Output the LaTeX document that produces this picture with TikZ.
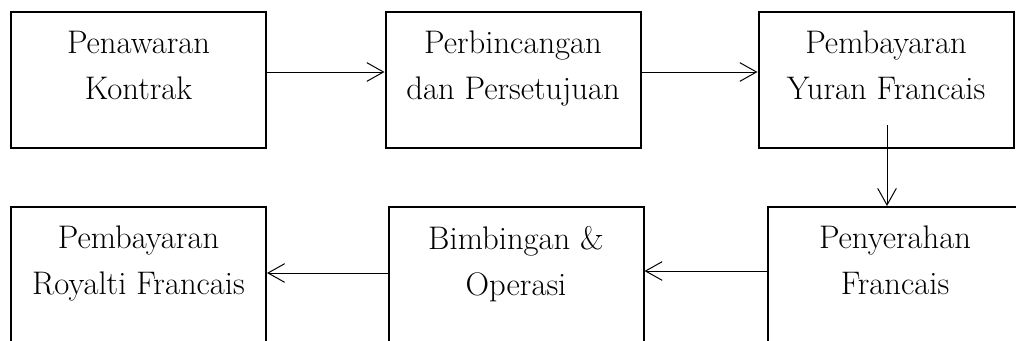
\documentclass[tikz,border=0pt]{standalone}
\usetikzlibrary{arrows.meta,calc}
\begin{document}
\begin{tikzpicture}[x=0.75pt,y=-0.75pt,
  box/.style={draw, line width=1.5pt, minimum width=191.25pt, minimum height=102pt, inner sep=0pt},
  txt/.style={font=\fontsize{24.5}{34.5}\selectfont, align=center, inner sep=0pt, anchor=north},
  arr/.style={-{Straight Barb[length=12.5pt,width=14pt]}, line width=0.75pt}]
\path[use as bounding box] (0,0) rectangle (1016,340);
\clip (0,0) rectangle (1016,340);
% boxes
\node[box] (A) at (138.5,80) {};
\node[box] (B) at (513,80) {};
\node[box] (C) at (886,80) {};
\node[box] (D) at (138.5,275) {};
\node[box] (E) at (516,275) {};
\node[box] (F) at (895,275) {};
% texts
\node[txt] (At) at ($(A.north)+(0,20)$) {Penawaran\\Kontrak};
\node[txt] (Bt) at ($(B.north)+(0,20)$) {Perbincangan\\dan Persetujuan};
\node[txt] (Ct) at ($(C.north)+(0,20)$) {Pembayaran\\Yuran Francais};
\node[txt] (Dt) at ($(D.north)+(0,20)$) {Pembayaran\\Royalti Francais};
\node[txt] (Et) at ($(E.north)+(0,20)$) {Bimbingan \&\\Operasi};
\node[txt] (Ft) at ($(F.north)+(0,20)$) {Penyerahan\\Francais};
% connectors
\draw[arr] ([yshift=6pt]A.east) -- ([yshift=6pt]B.west);
\draw[arr] ([yshift=6pt]B.east) -- ([yshift=6pt]C.west);
\coordinate (Cs) at ($(C.south)+(1,-24)$);
\draw[arr] (Cs) -- (Cs |- F.north);
\draw[arr] ([yshift=3pt]F.west) -- ([yshift=3pt]E.east);
\draw[arr] ([yshift=1.5pt]E.west) -- ([yshift=1.5pt]D.east);
\end{tikzpicture}
\end{document}
